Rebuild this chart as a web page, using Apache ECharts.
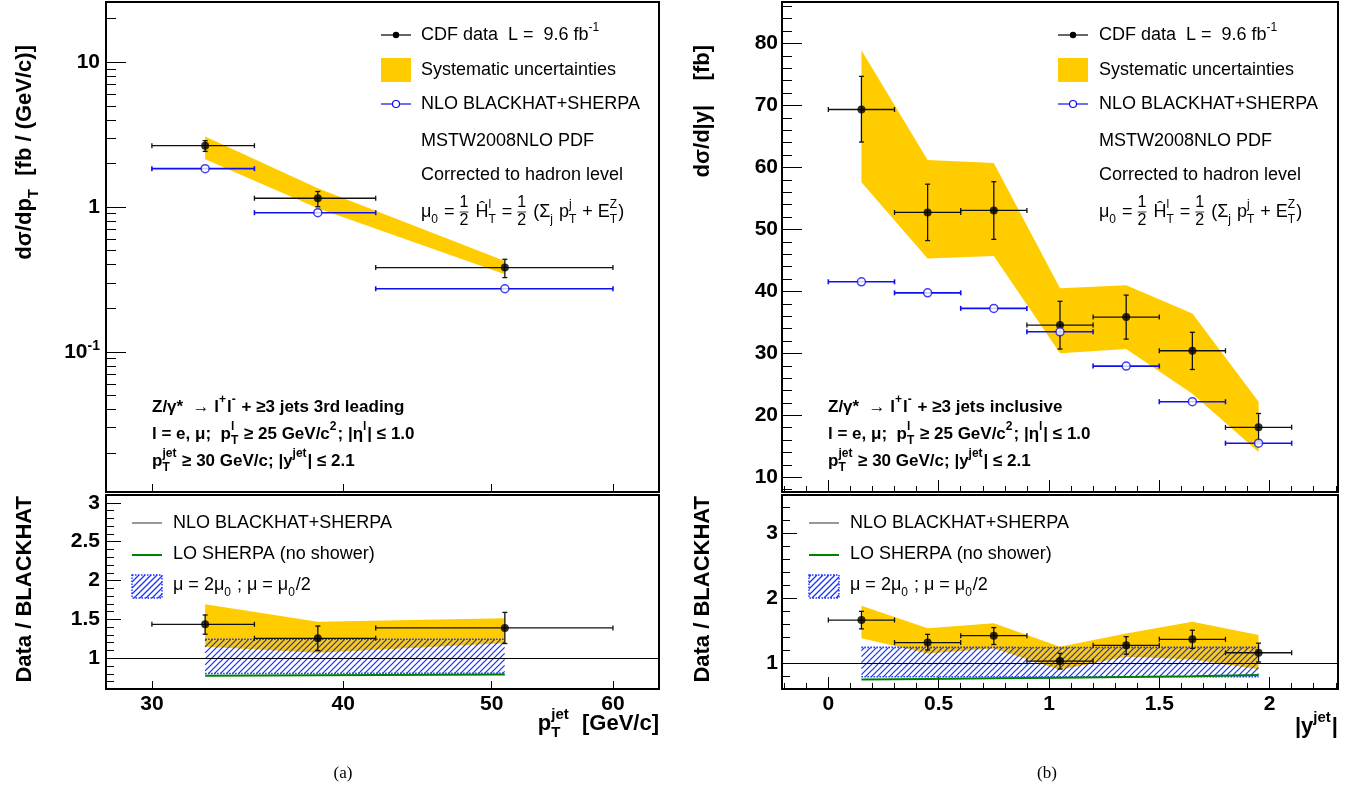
<!DOCTYPE html>
<html><head><meta charset="utf-8">
<script src="https://cdn.jsdelivr.net/npm/echarts@6/dist/echarts.min.js"></script>
<style>html,body{margin:0;padding:0;background:#fff}#c{width:1353px;height:794px}</style>
</head><body><div id="c"></div>
<script>
// ===== Panel (a): 3rd leading jet pT =====
const ptTickValues = [30, 40, 50, 60];
const ptBinLow = [30, 35, 42];
const ptBinHigh = [35, 42, 60];
const ptCenter = [32.5, 38.5, 51];
const ptData = [2.65, 1.15, 0.382];
const ptDataHigh = [2.87, 1.28, 0.436];
const ptDataLow = [2.42, 1.005, 0.326];
const ptSystHigh = [3.07, 1.35, 0.424];
const ptSystLow = [2.14, 0.98, 0.343];
const ptNlo = [1.84, 0.914, 0.273];
const ptRatio = [1.437, 1.257, 1.39];
const ptRatioHigh = [1.557, 1.415, 1.59];
const ptRatioLow = [1.31, 1.098, 1.19];
const ptRatioSystHigh = [1.694, 1.47, 1.514];
const ptRatioSystLow = [1.149, 1.072, 1.193];
const ptScaleHigh = [1.244, 1.244, 1.244];
const ptScaleLow = [0.805, 0.805, 0.807];
const ptLoSherpa = [0.775, 0.782, 0.79];
const ptYMajorTicks = [0.1, 1, 10];
const ptYMinorTicks = [0.02,0.03,0.04,0.05,0.06,0.07,0.08,0.09,0.2,0.3,0.4,0.5,0.6,0.7,0.8,0.9,2,3,4,5,6,7,8,9,20];
const ratioAMajorTicks = [1, 1.5, 2, 2.5, 3];
const ratioAMinorTicks = [0.7,0.8,0.9,1.1,1.2,1.3,1.4,1.6,1.7,1.8,1.9,2.1,2.2,2.3,2.4,2.6,2.7,2.8,2.9];

// ===== Panel (b): jet rapidity =====
const yTickValues = [0, 0.5, 1, 1.5, 2];
const yMinorTickValues = [-0.2,-0.1,0.1,0.2,0.3,0.4,0.6,0.7,0.8,0.9,1.1,1.2,1.3,1.4,1.6,1.7,1.8,1.9,2.1,2.2,2.3];
const yBinLow = [0, 0.3, 0.6, 0.9, 1.2, 1.5, 1.8];
const yBinHigh = [0.3, 0.6, 0.9, 1.2, 1.5, 1.8, 2.1];
const yCenter = [0.15, 0.45, 0.75, 1.05, 1.35, 1.65, 1.95];
const yData = [69.35, 52.74, 53.06, 34.56, 35.85, 30.42, 18.06];
const yDataHigh = [74.7, 57.3, 57.7, 38.4, 39.4, 33.4, 20.3];
const yDataLow = [64.1, 48.2, 48.4, 30.7, 32.3, 27.4, 15.8];
const ySystHigh = [78.9, 61.2, 60.7, 40.5, 41.0, 36.45, 22.2];
const ySystLow = [57.6, 45.3, 45.7, 30.0, 30.7, 23.5, 14.1];
const yNlo = [41.55, 39.77, 37.26, 33.48, 27.95, 22.2, 15.5];
const yRatio = [1.666, 1.32, 1.425, 1.035, 1.277, 1.37, 1.163];
const yRatioHigh = [1.80, 1.446, 1.55, 1.154, 1.41, 1.51, 1.31];
const yRatioLow = [1.53, 1.205, 1.29, 0.912, 1.14, 1.23, 1.02];
const yRatioSystHigh = [1.886, 1.54, 1.615, 1.255, 1.46, 1.64, 1.435];
const yRatioSystLow = [1.386, 1.15, 1.227, 0.90, 1.10, 1.06, 0.91];
const yScaleHigh = [1.246, 1.246, 1.246, 1.242, 1.246, 1.246, 1.246];
const yScaleLow = [0.794, 0.794, 0.794, 0.794, 0.794, 0.794, 0.794];
const yLoSherpa = [0.75, 0.76, 0.77, 0.78, 0.79, 0.80, 0.82];
const dyMajorTicks = [10,20,30,40,50,60,70,80];
const dyMinorTicks = [8,12,14,16,18,22,24,26,28,32,34,36,38,42,44,46,48,52,54,56,58,62,64,66,68,72,74,76,78,82,84,86];
const ratioBMajorTicks = [1, 2, 3];
const ratioBMinorTicks = [0.8,1.2,1.4,1.6,1.8,2.2,2.4,2.6,2.8,3.2,3.4];

// ===== styling helpers =====
const FONT = "'Liberation Sans', Arial, Helvetica, sans-serif";
const YELLOW = '#ffcc00', BLUE = '#1010ee', GREEN = '#008000', HBLUE = '#1530ff';
const HATCH_SPACING = 6, HATCH_WIDTH = 1.25;
const mctx = document.createElement('canvas').getContext('2d');
function tw(t, f) { mctx.font = f; return mctx.measureText(t).width; }
function fnt(size, bold) { return (bold ? 'bold ' : '') + size + 'px ' + FONT; }

// diagonal "/" hatch segments between two pixel polylines (same x nodes)
function interp(pts, x) {
  for (let i = 0; i < pts.length - 1; i++) {
    if (x <= pts[i + 1][0]) { const t = (x - pts[i][0]) / (pts[i + 1][0] - pts[i][0]); return pts[i][1] + t * (pts[i + 1][1] - pts[i][1]); }
  }
  return pts[pts.length - 1][1];
}
function hatchSegs(top, bot, sp) {
  const x0 = top[0][0], x1 = top[top.length - 1][0];
  const yMin = Math.min.apply(null, top.map(p => p[1])), yMax = Math.max.apply(null, bot.map(p => p[1]));
  const segs = [];
  const cStart = Math.ceil((x0 + yMin) / sp) * sp;
  for (let c = cStart; c <= x1 + yMax; c += sp) {
    let a = null, b = null;
    for (let x = x0; x <= x1 + 0.01; x += 0.25) {
      const y = c - x;
      if (y >= interp(top, x) && y <= interp(bot, x)) { if (a === null) a = x; b = x; }
    }
    if (a !== null && b > a) segs.push([a, c - a, b, c - b]);
  }
  return segs;
}

function mathText(tokens, o) {
  const size = o.size, color = o.color || '#000';
  const F = fnt(size, o.bold), SF = fnt(Math.round(size * 0.68), o.bold), FF = fnt(Math.round(size * 0.88), o.bold);
  const kids = []; let x = 0;
  const put = (t, px, py, f) => kids.push({ type: 'text', x: px, y: py, z: 100, silent: true,
    style: { text: t, font: f, fill: color, textAlign: 'left', textVerticalAlign: 'middle', align: 'left', verticalAlign: 'middle' } });
  tokens.forEach(tok => {
    if (typeof tok === 'string') { put(tok, x, 0, F); x += tw(tok, F); }
    else if (tok.frac) {
      const w = Math.max(tw(tok.frac[0], FF), tw(tok.frac[1], FF));
      put(tok.frac[0], x + (w - tw(tok.frac[0], FF)) / 2, -0.52 * size, FF);
      put(tok.frac[1], x + (w - tw(tok.frac[1], FF)) / 2, 0.5 * size, FF);
      kids.push({ type: 'line', x: 0, y: 0, z: 100, silent: true, shape: { x1: x, y1: 0, x2: x + w, y2: 0 }, style: { stroke: color, lineWidth: 0.8 } });
      x += w + 2;
    } else {
      let w = 0;
      if (tok.sup !== undefined) { put(tok.sup, x, -0.42 * size, SF); w = Math.max(w, tw(tok.sup, SF)); }
      if (tok.sub !== undefined) { put(tok.sub, x, 0.4 * size, SF); w = Math.max(w, tw(tok.sub, SF)); }
      x += w + 1;
    }
  });
  const shift = o.align === 'right' ? -x : (o.align === 'center' ? -x / 2 : 0);
  kids.forEach(k => { k.x += shift; });
  return { type: 'group', x: o.x, y: o.y, rotation: o.rotate ? Math.PI / 2 : 0, z: 100, silent: true, children: kids };
}

// ===== series builders =====
function bandSeries(xi, yi, xs, hi, lo, hatched) {
  return { type: 'custom', xAxisIndex: xi, yAxisIndex: yi, clip: true, silent: true, animation: false,
    data: xs.map((x, i) => [x, hi[i], lo[i]]),
    renderItem: (params, api) => {
      if (params.dataIndex !== 0) return null;
      const top = xs.map((x, i) => api.coord([x, hi[i]]));
      const bot = xs.map((x, i) => api.coord([x, lo[i]]));
      if (!hatched) return { type: 'polygon', shape: { points: top.concat(bot.slice().reverse()) }, style: { fill: YELLOW } };
      const kids = hatchSegs(top, bot, HATCH_SPACING).map(s => ({ type: 'line', shape: { x1: s[0], y1: s[1], x2: s[2], y2: s[3] }, style: { stroke: HBLUE, lineWidth: HATCH_WIDTH } }));
      const st = { stroke: HBLUE, lineWidth: 1.6, lineDash: [1.5, 1.5], fill: null };
      kids.push({ type: 'polyline', shape: { points: top }, style: st });
      kids.push({ type: 'polyline', shape: { points: bot }, style: st });
      return { type: 'group', children: kids };
    } };
}
function errSeries(xi, yi, xs, xlo, xhi, y, ylo, yhi, color, lw) {
  return { type: 'custom', xAxisIndex: xi, yAxisIndex: yi, clip: true, silent: true, animation: false,
    encode: { x: 0, y: 1 },
    data: xs.map((x, i) => [x, y[i], xlo[i], xhi[i], ylo ? ylo[i] : y[i], yhi ? yhi[i] : y[i]]),
    renderItem: (params, api) => {
      const yv = api.value(1);
      const l = api.coord([api.value(2), yv]), r = api.coord([api.value(3), yv]);
      const b = api.coord([api.value(0), api.value(4)]), t = api.coord([api.value(0), api.value(5)]);
      const st = { stroke: color, lineWidth: lw };
      const L = (x1, y1, x2, y2) => ({ type: 'line', shape: { x1, y1, x2, y2 }, style: st });
      const ch = [L(l[0], l[1], r[0], r[1]), L(l[0], l[1] - 2.5, l[0], l[1] + 2.5), L(r[0], r[1] - 2.5, r[0], r[1] + 2.5)];
      if (ylo) { ch.push(L(b[0], b[1], t[0], t[1]), L(t[0] - 2.5, t[1], t[0] + 2.5, t[1]), L(b[0] - 2.5, b[1], b[0] + 2.5, b[1])); }
      return { type: 'group', children: ch };
    } };
}
function dots(xi, yi, xs, y, open) {
  return { type: 'scatter', xAxisIndex: xi, yAxisIndex: yi, silent: true, animation: false,
    data: xs.map((x, i) => [x, y[i]]), symbol: 'circle', symbolSize: 8,
    itemStyle: open ? { color: '#fff', borderColor: BLUE, borderWidth: 1.5 } : { color: '#000' } };
}
function loLine(xi, yi, xs, y) {
  return { type: 'line', xAxisIndex: xi, yAxisIndex: yi, silent: true, animation: false, symbol: 'none',
    data: xs.map((x, i) => [x, y[i]]), lineStyle: { color: GREEN, width: 2 },
    markLine: { silent: true, symbol: ['none', 'none'], animation: false, label: { show: false },
      lineStyle: { color: '#000', width: 1.2, type: 'solid' }, data: [{ yAxis: 1 }] } };
}

// ===== axes =====
const labelStyle = { fontSize: 21, fontWeight: 'bold', color: '#000', fontFamily: FONT };
function ax(o) {
  const a = { gridIndex: o.g, type: o.type || 'value', min: o.min, max: o.max, position: o.pos,
    axisLine: { show: false, onZero: false }, splitLine: { show: false },
    axisTick: { show: true, inside: true, length: o.len, customValues: o.ticks, lineStyle: { color: '#000', width: 1 } },
    axisLabel: o.labels ? Object.assign({ show: true, customValues: o.ticks, margin: o.margin, formatter: o.fmt || (v => String(v)) }, labelStyle, o.rich ? { rich: o.rich } : {}) : { show: false } };
  if (a.type === 'log') a.logBase = 10;
  return a;
}
const xAxes = [
  ax({ g: 0, type: 'log', min: 28, max: 64.3, pos: 'bottom', len: 8, ticks: ptTickValues }),
  ax({ g: 1, type: 'log', min: 28, max: 64.3, pos: 'bottom', len: 8, ticks: ptTickValues, labels: true, margin: 5 }),
  ax({ g: 2, min: -0.21, max: 2.31, pos: 'bottom', len: 12, ticks: yTickValues }),
  ax({ g: 2, min: -0.21, max: 2.31, pos: 'bottom', len: 6, ticks: yMinorTickValues }),
  ax({ g: 3, min: -0.21, max: 2.31, pos: 'bottom', len: 12, ticks: yTickValues, labels: true, margin: 5 }),
  ax({ g: 3, min: -0.21, max: 2.31, pos: 'bottom', len: 6, ticks: yMinorTickValues })
];
const yAxes = [
  ax({ g: 0, type: 'log', min: 0.0108, max: 26, pos: 'left', len: 20, ticks: ptYMajorTicks, labels: true, margin: 6,
    fmt: v => { const e = Math.round(Math.log10(v)); return e === 0 ? '{n|1}' : (e === 1 ? '{n|10}' : '{n|10}{s|' + e + '}'); },
    rich: { n: { fontSize: 21, fontWeight: 'bold', fontFamily: FONT, color: '#000' },
            s: { fontSize: 14, fontWeight: 'bold', fontFamily: FONT, color: '#000', padding: [0, 0, 12, 0] } } }),
  ax({ g: 0, type: 'log', min: 0.0108, max: 26, pos: 'left', len: 10, ticks: ptYMinorTicks }),
  ax({ g: 1, min: 0.605, max: 3.1, pos: 'left', len: 15, ticks: ratioAMajorTicks, labels: true, margin: 6 }),
  ax({ g: 1, min: 0.605, max: 3.1, pos: 'left', len: 8, ticks: ratioAMinorTicks }),
  ax({ g: 2, min: 7.63, max: 86.7, pos: 'left', len: 20, ticks: dyMajorTicks, labels: true, margin: 4 }),
  ax({ g: 2, min: 7.63, max: 86.7, pos: 'left', len: 10, ticks: dyMinorTicks }),
  ax({ g: 3, min: 0.605, max: 3.59, pos: 'left', len: 15, ticks: ratioBMajorTicks, labels: true, margin: 4 }),
  ax({ g: 3, min: 0.605, max: 3.59, pos: 'left', len: 8, ticks: ratioBMinorTicks })
];
const gridBase = { show: true, borderColor: '#000', borderWidth: 2, backgroundColor: 'transparent', containLabel: false };
const grids = [
  Object.assign({ left: 106, top: 2, width: 553, height: 490 }, gridBase),
  Object.assign({ left: 106, top: 495, width: 553, height: 194 }, gridBase),
  Object.assign({ left: 782, top: 2, width: 556, height: 490 }, gridBase),
  Object.assign({ left: 782, top: 495, width: 556, height: 194 }, gridBase)
];

const series = [
  // (a) top
  bandSeries(0, 0, ptCenter, ptSystHigh, ptSystLow, false),
  errSeries(0, 0, ptCenter, ptBinLow, ptBinHigh, ptData, ptDataLow, ptDataHigh, '#111', 1.3),
  dots(0, 0, ptCenter, ptData, false),
  errSeries(0, 0, ptCenter, ptBinLow, ptBinHigh, ptNlo, null, null, BLUE, 1.6),
  dots(0, 0, ptCenter, ptNlo, true),
  // (a) ratio
  bandSeries(1, 2, ptCenter, ptRatioSystHigh, ptRatioSystLow, false),
  bandSeries(1, 2, ptCenter, ptScaleHigh, ptScaleLow, true),
  loLine(1, 2, ptCenter, ptLoSherpa),
  errSeries(1, 2, ptCenter, ptBinLow, ptBinHigh, ptRatio, ptRatioLow, ptRatioHigh, '#111', 1.3),
  dots(1, 2, ptCenter, ptRatio, false),
  // (b) top
  bandSeries(2, 4, yCenter, ySystHigh, ySystLow, false),
  errSeries(2, 4, yCenter, yBinLow, yBinHigh, yData, yDataLow, yDataHigh, '#111', 1.3),
  dots(2, 4, yCenter, yData, false),
  errSeries(2, 4, yCenter, yBinLow, yBinHigh, yNlo, null, null, BLUE, 1.6),
  dots(2, 4, yCenter, yNlo, true),
  // (b) ratio
  bandSeries(4, 6, yCenter, yRatioSystHigh, yRatioSystLow, false),
  bandSeries(4, 6, yCenter, yScaleHigh, yScaleLow, true),
  loLine(4, 6, yCenter, yLoSherpa),
  errSeries(4, 6, yCenter, yBinLow, yBinHigh, yRatio, yRatioLow, yRatioHigh, '#111', 1.3),
  dots(4, 6, yCenter, yRatio, false)
];

// ===== annotations =====
const G = [];
function topLegend(lx, tx) {
  G.push({ type: 'line', z: 100, shape: { x1: lx, y1: 35, x2: lx + 30, y2: 35 }, style: { stroke: '#000', lineWidth: 1.2 } });
  G.push({ type: 'circle', z: 101, shape: { cx: lx + 15, cy: 35, r: 3.2 }, style: { fill: '#000' } });
  G.push(mathText(['CDF data  L =  9.6 fb', { sup: '-1' }], { x: tx, y: 35, size: 18 }));
  G.push({ type: 'rect', z: 100, shape: { x: lx, y: 58, width: 30, height: 24 }, style: { fill: YELLOW } });
  G.push(mathText(['Systematic uncertainties'], { x: tx, y: 70, size: 18 }));
  G.push({ type: 'line', z: 100, shape: { x1: lx, y1: 104, x2: lx + 30, y2: 104 }, style: { stroke: BLUE, lineWidth: 1.2 } });
  G.push({ type: 'circle', z: 101, shape: { cx: lx + 15, cy: 104, r: 3.5 }, style: { fill: '#fff', stroke: BLUE, lineWidth: 1.2 } });
  G.push(mathText(['NLO BLACKHAT+SHERPA'], { x: tx, y: 104, size: 18 }));
  G.push(mathText(['MSTW2008NLO PDF'], { x: tx, y: 141, size: 18 }));
  G.push(mathText(['Corrected to hadron level'], { x: tx, y: 175, size: 18 }));
  G.push(mathText(['μ', { sub: '0' }, ' = ', { frac: ['1', '2'] }, ' Ĥ', { sup: 'l', sub: 'T' }, ' = ', { frac: ['1', '2'] },
    ' (Σ', { sub: 'j' }, ' p', { sup: 'j', sub: 'T' }, ' + E', { sup: 'Z', sub: 'T' }, ')'], { x: tx, y: 212, size: 18 }));
}
function bottomLegend(lx, tx) {
  G.push({ type: 'line', z: 100, shape: { x1: lx, y1: 523, x2: lx + 30, y2: 523 }, style: { stroke: '#333', lineWidth: 1 } });
  G.push(mathText(['NLO BLACKHAT+SHERPA'], { x: tx, y: 523, size: 18 }));
  G.push({ type: 'line', z: 100, shape: { x1: lx, y1: 555, x2: lx + 30, y2: 555 }, style: { stroke: GREEN, lineWidth: 2 } });
  G.push(mathText(['LO SHERPA (no shower)'], { x: tx, y: 554, size: 18 }));
  const top = [[lx, 575], [lx + 30, 575]], bot = [[lx, 598], [lx + 30, 598]];
  hatchSegs(top, bot, HATCH_SPACING).forEach(s => G.push({ type: 'line', z: 100, shape: { x1: s[0], y1: s[1], x2: s[2], y2: s[3] }, style: { stroke: HBLUE, lineWidth: HATCH_WIDTH } }));
  G.push({ type: 'rect', z: 101, shape: { x: lx, y: 575, width: 30, height: 23 }, style: { fill: null, stroke: HBLUE, lineWidth: 1.4, lineDash: [1.5, 1.5] } });
  G.push(mathText(['μ = 2μ', { sub: '0' }, ' ; μ = μ', { sub: '0' }, '/2'], { x: tx, y: 585, size: 18 }));
}
function cutText(x, last) {
  G.push(mathText(['Z/γ*  → l', { sup: '+' }, 'l', { sup: '-' }, ' + ≥3 jets ' + last], { x: x, y: 407, size: 17, bold: true }));
  G.push(mathText(['l = e, μ;  p', { sup: 'l', sub: 'T' }, ' ≥ 25 GeV/c', { sup: '2' }, '; |η', { sup: 'l' }, '| ≤ 1.0'], { x: x, y: 434, size: 17, bold: true }));
  G.push(mathText(['p', { sup: 'jet', sub: 'T' }, ' ≥ 30 GeV/c; |y', { sup: 'jet' }, '| ≤ 2.1'], { x: x, y: 461, size: 17, bold: true }));
}
topLegend(381, 421);
topLegend(1058, 1099);
bottomLegend(132, 173);
bottomLegend(809, 850);
cutText(152, '3rd leading');
cutText(828, 'inclusive');
// axis titles
G.push(mathText(['dσ/dp', { sub: 'T' }, '  [fb / (GeV/c)]'], { x: 25, y: 45, size: 22, bold: true, rotate: true, align: 'right' }));
G.push(mathText(['Data / BLACKHAT'], { x: 25, y: 496, size: 22, bold: true, rotate: true, align: 'right' }));
G.push(mathText(['dσ/d|y|    [fb]'], { x: 703, y: 45, size: 22, bold: true, rotate: true, align: 'right' }));
G.push(mathText(['Data / BLACKHAT'], { x: 703, y: 496, size: 22, bold: true, rotate: true, align: 'right' }));
G.push(mathText(['p', { sup: 'jet', sub: 'T' }, '  [GeV/c]'], { x: 659, y: 724, size: 22, bold: true, align: 'right' }));
G.push(mathText(['|y', { sup: 'jet' }, '|'], { x: 1338, y: 727, size: 22, bold: true, align: 'right' }));
G.push({ type: 'text', z: 100, x: 343, y: 774, style: { text: '(a)', font: "17px 'Liberation Serif', 'Times New Roman', serif", fill: '#000', textAlign: 'center', textVerticalAlign: 'middle', align: 'center', verticalAlign: 'middle' } });
G.push({ type: 'text', z: 100, x: 1047, y: 774, style: { text: '(b)', font: "17px 'Liberation Serif', 'Times New Roman', serif", fill: '#000', textAlign: 'center', textVerticalAlign: 'middle', align: 'center', verticalAlign: 'middle' } });

const chart = echarts.init(document.getElementById('c'), null, { renderer: 'canvas' });
chart.setOption({
  animation: false,
  backgroundColor: '#fff',
  textStyle: { fontFamily: FONT },
  grid: grids,
  xAxis: xAxes,
  yAxis: yAxes,
  series: series,
  graphic: G
});
</script></body></html>
